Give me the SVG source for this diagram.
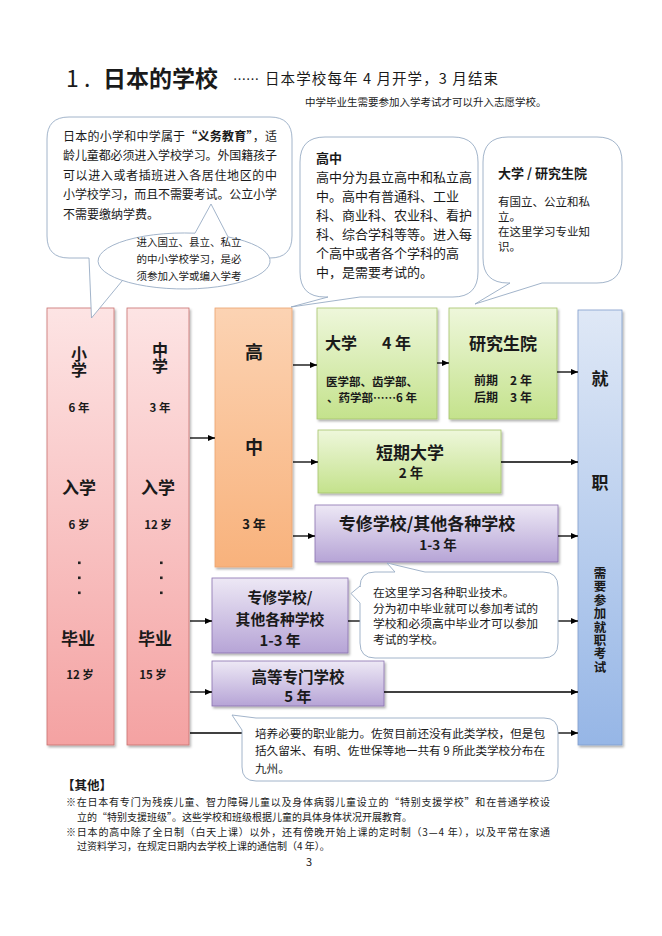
<svg xmlns="http://www.w3.org/2000/svg" width="662" height="936" viewBox="0 0 662 936">
<style>
.t{font-family:"Noto Sans CJK SC","Noto Sans",sans-serif;fill:#1a1a1a}
.b{font-weight:700}
.c{text-anchor:middle}
.v{writing-mode:vertical-rl;text-orientation:upright}
.cl{fill:#fff;stroke:#97abc4;stroke-width:0.9}
.ln{stroke:#000;stroke-width:1.3;fill:none}
</style>
<defs>
<linearGradient id="gPink" x1="0" y1="0" x2="0" y2="1"><stop offset="0" stop-color="#fde4e4"/><stop offset="1" stop-color="#f4a2a2"/></linearGradient>
<linearGradient id="gOr" x1="0" y1="0" x2="0" y2="1"><stop offset="0" stop-color="#fcd3b3"/><stop offset="1" stop-color="#f8b27c"/></linearGradient>
<linearGradient id="gGr" x1="0" y1="0" x2="0" y2="1"><stop offset="0" stop-color="#eef7db"/><stop offset="1" stop-color="#c4e28c"/></linearGradient>
<linearGradient id="gPu" x1="0" y1="0" x2="0" y2="1"><stop offset="0" stop-color="#ede8f5"/><stop offset="1" stop-color="#b6a4d6"/></linearGradient>
<linearGradient id="gBl" x1="0" y1="0" x2="0" y2="1"><stop offset="0" stop-color="#dfe8f6"/><stop offset="1" stop-color="#96b6e6"/></linearGradient>
<filter id="sh" x="-20%" y="-10%" width="140%" height="130%"><feDropShadow dx="1.5" dy="2" stdDeviation="1.2" flood-color="#000" flood-opacity="0.3"/></filter>
<marker id="arr" markerWidth="8" markerHeight="7" refX="7" refY="3" orient="auto" markerUnits="userSpaceOnUse"><path d="M0,0 L7,3 L0,6 z" fill="#000"/></marker>
</defs>
<rect width="662" height="936" fill="#fff"/>

<g id="title">
<text class="t" x="66" y="86.5" font-size="23" font-family="Liberation Sans">1</text>
<text class="t" x="84" y="86.5" font-size="23" font-family="Liberation Sans">.</text>
<text class="t b" x="103" y="86.5" font-size="23">日本的学校</text>
<text class="t" x="233" y="83.5" font-size="13">……</text>
<text class="t" x="265" y="83.5" font-size="14.5" textLength="233" lengthAdjust="spacing">日本学校每年 4 月开学，3 月结束</text>
<text class="t" x="305" y="106" font-size="10.5">中学毕业生需要参加入学考试才可以升入志愿学校。</text>
</g>

<g id="n-shougakko">
<rect x="47" y="308" width="67" height="437" fill="url(#gPink)" stroke="#c8716e" stroke-width="0.8" filter="url(#sh)"/>
<text class="t b v" x="79" y="346" font-size="16">小学</text>
<text class="t b c" x="79" y="412" font-size="11.5">6 年</text>
<text class="t b c" x="79" y="493.5" font-size="17">入学</text>
<text class="t b c" x="79" y="529" font-size="11.5">6 岁</text>
<rect x="78" y="561.5" width="2.6" height="2.6" fill="#222"/>
<rect x="78" y="576.5" width="2.6" height="2.6" fill="#222"/>
<rect x="78" y="591.5" width="2.6" height="2.6" fill="#222"/>
<text class="t b c" x="78" y="644.5" font-size="17">毕业</text>
<text class="t b c" x="80" y="679" font-size="11.5">12 岁</text>
</g>

<g id="n-chugakko">
<rect x="127" y="308" width="62" height="437" fill="url(#gPink)" stroke="#c8716e" stroke-width="0.8" filter="url(#sh)"/>
<text class="t b v" x="160" y="342" font-size="16">中学</text>
<text class="t b c" x="160" y="412" font-size="11.5">3 年</text>
<text class="t b c" x="158" y="493.5" font-size="17">入学</text>
<text class="t b c" x="158" y="529" font-size="11.5">12 岁</text>
<rect x="160" y="561.5" width="2.6" height="2.6" fill="#222"/>
<rect x="160" y="576.5" width="2.6" height="2.6" fill="#222"/>
<rect x="160" y="591.5" width="2.6" height="2.6" fill="#222"/>
<text class="t b c" x="155" y="644.5" font-size="17">毕业</text>
<text class="t b c" x="153" y="679" font-size="11.5">15 岁</text>
</g>

<g id="n-koko">
<rect x="215" y="308" width="77" height="259" fill="url(#gOr)" stroke="#eba36f" stroke-width="0.8" filter="url(#sh)"/>
<text class="t b c" x="254" y="359" font-size="18">高</text>
<text class="t b c" x="254" y="454" font-size="18">中</text>
<text class="t b c" x="254" y="529" font-size="13">3 年</text>
</g>

<g id="n-daigaku">
<rect x="317" y="308" width="120" height="111" fill="url(#gGr)" stroke="#a5c46c" stroke-width="0.8" filter="url(#sh)"/>
<text class="t b" x="325" y="349" font-size="16">大学<tspan x="382">4 年</tspan></text>
<text class="t b c" x="372" y="385.5" font-size="11.5">医学部、齿学部、</text>
<text class="t b c" x="372" y="402" font-size="11.5">、药学部……6 年</text>
</g>

<g id="n-daigakuin">
<rect x="449" y="308" width="108" height="111" fill="url(#gGr)" stroke="#a5c46c" stroke-width="0.8" filter="url(#sh)"/>
<text class="t b c" x="503" y="349.5" font-size="17">研究生院</text>
<text class="t b c" x="503" y="384.5" font-size="12">前期　2 年</text>
<text class="t b c" x="503" y="402" font-size="12">后期　3 年</text>
</g>

<g id="n-tanki">
<rect x="318" y="430" width="183" height="63" fill="url(#gGr)" stroke="#a5c46c" stroke-width="0.8" filter="url(#sh)"/>
<text class="t b c" x="410" y="458.5" font-size="17">短期大学</text>
<text class="t b c" x="411" y="478" font-size="13.5">2 年</text>
</g>

<g id="n-senshu-upper">
<rect x="315" y="505" width="243" height="57" fill="url(#gPu)" stroke="#8a72b0" stroke-width="0.8" filter="url(#sh)"/>
<text class="t b c" x="427" y="529.5" font-size="17">专修学校/其他各种学校</text>
<text class="t b c" x="438" y="550" font-size="13.5">1-3 年</text>
</g>

<g id="n-senshu-lower">
<rect x="212" y="578" width="136" height="75" fill="url(#gPu)" stroke="#8a72b0" stroke-width="0.8" filter="url(#sh)"/>
<text class="t b c" x="280" y="603" font-size="14.8">专修学校/</text>
<text class="t b c" x="280" y="624.5" font-size="14.8">其他各种学校</text>
<text class="t b c" x="280" y="646" font-size="14.8">1-3  年</text>
</g>

<g id="n-kosen">
<rect x="212" y="661" width="172" height="45" fill="url(#gPu)" stroke="#8a72b0" stroke-width="0.8" filter="url(#sh)"/>
<text class="t b c" x="298" y="682.5" font-size="15.5">高等专门学校</text>
<text class="t b c" x="298" y="702" font-size="15">5 年</text>
</g>

<g id="n-shushoku">
<rect x="578" y="310" width="44" height="435" fill="url(#gBl)" stroke="#7f9dcc" stroke-width="0.8" filter="url(#sh)"/>
<text class="t b c" x="600" y="384.5" font-size="17">就</text>
<text class="t b c" x="600" y="488.5" font-size="17">职</text>
<text class="t b v" x="600" y="567" font-size="12.5" letter-spacing="0.9">需要参加就职考试</text>
</g>

<g id="connectors">
<line class="ln" x1="190" y1="438" x2="215" y2="438" marker-end="url(#arr)"/>
<line class="ln" x1="293" y1="365" x2="317" y2="365" marker-end="url(#arr)"/>
<line class="ln" x1="293" y1="462" x2="318" y2="462" marker-end="url(#arr)"/>
<line class="ln" x1="293" y1="536" x2="315" y2="536" marker-end="url(#arr)"/>
<line class="ln" x1="437" y1="363" x2="449" y2="363" marker-end="url(#arr)"/>
<line class="ln" x1="557" y1="372" x2="578" y2="372" marker-end="url(#arr)"/>
<line class="ln" x1="501" y1="462" x2="578" y2="462" marker-end="url(#arr)"/>
<line class="ln" x1="558" y1="536" x2="578" y2="536" marker-end="url(#arr)"/>
<line class="ln" x1="190" y1="621" x2="212" y2="621" marker-end="url(#arr)"/>
<line class="ln" x1="348" y1="621" x2="360" y2="621"/>
<line class="ln" x1="558" y1="621" x2="578" y2="621" marker-end="url(#arr)"/>
<line class="ln" x1="190" y1="692" x2="212" y2="692" marker-end="url(#arr)"/>
<line class="ln" x1="384" y1="692" x2="578" y2="692" marker-end="url(#arr)"/>
<line class="ln" x1="190" y1="733" x2="242" y2="733"/>
<line class="ln" x1="558" y1="733" x2="578" y2="733" marker-end="url(#arr)"/>
</g>

<g id="callout-gimu">
<path class="cl" d="M69,117 H270 Q292,117 292,139 V236 Q292,258 270,258 H141 L91.5,318 L89,258 H69 Q47,258 47,236 V139 Q47,117 69,117 Z"/>
<text class="t" x="63" y="140.5" font-size="12" textLength="214" lengthAdjust="spacing">日本的小学和中学属于<tspan class="b">“义务教育”</tspan>，适</text>
<text class="t" x="63" y="160" font-size="12" textLength="214" lengthAdjust="spacing">龄儿童都必须进入学校学习。外国籍孩子</text>
<text class="t" x="63" y="179.5" font-size="12" textLength="214" lengthAdjust="spacing">可以进入或者插班进入各居住地区的中</text>
<text class="t" x="63" y="199" font-size="12" textLength="214" lengthAdjust="spacing">小学校学习，而且不需要考试。公立小学</text>
<text class="t" x="63" y="218.5" font-size="12">不需要缴纳学费。</text>
</g>

<g id="callout-nyugaku">
<path class="cl" d="M195,233.2 L211,204 L228,236.9 A86,28 0 1 1 195,233.2 Z"/>
<text class="t c" x="189" y="246" font-size="10.5">进入国立、县立、私立</text>
<text class="t c" x="189" y="263" font-size="10.5">的中小学校学习，是必</text>
<text class="t c" x="189" y="280" font-size="10.5">须参加入学或编入学考</text>
</g>

<g id="callout-koko">
<path class="cl" d="M325,137 H453 Q478,137 478,162 V272 Q478,297 453,297 H360 L291,307 L328,297 H325 Q300,297 300,272 V162 Q300,137 325,137 Z"/>
<text class="t b" x="316" y="162.5" font-size="13">高中</text>
<text class="t" x="316" y="181.5" font-size="13">高中分为县立高中和私立高</text>
<text class="t" x="316" y="200.5" font-size="13">中。高中有普通科、工业</text>
<text class="t" x="316" y="219.5" font-size="13">科、商业科、农业科、看护</text>
<text class="t" x="316" y="238.5" font-size="13">科、综合学科等等。进入每</text>
<text class="t" x="316" y="257.5" font-size="13">个高中或者各个学科的高</text>
<text class="t" x="316" y="276.5" font-size="13">中，是需要考试的。</text>
</g>

<g id="callout-daigaku">
<path class="cl" d="M508,137 H597 Q622,137 622,162 V258 Q622,283 597,283 H542 L475,304 L510,283 H508 Q483,283 483,258 V162 Q483,137 508,137 Z"/>
<text class="t b" x="498" y="177.5" font-size="13">大学 / 研究生院</text>
<text class="t" x="498" y="206" font-size="11.5">有国立、公立和私</text>
<text class="t" x="498" y="221" font-size="11.5">立。</text>
<text class="t" x="498" y="236" font-size="11.5">在这里学习专业知</text>
<text class="t" x="498" y="251" font-size="11.5">识。</text>
</g>

<g id="callout-senshu">
<path class="cl" d="M375,572 H395 L387,563 L425,572 H543 Q558,572 558,587 V643 Q558,658 543,658 H375 Q360,658 360,643 V603 L351,593.5 L360,586 V587 Q360,572 375,572 Z"/>
<text class="t" x="373" y="597" font-size="11.8">在这里学习各种职业技术。</text>
<text class="t" x="373" y="612.5" font-size="11.8">分为初中毕业就可以参加考试的</text>
<text class="t" x="373" y="628" font-size="11.8">学校和必须高中毕业才可以参加</text>
<text class="t" x="373" y="643.5" font-size="11.8">考试的学校。</text>
</g>

<g id="callout-kosen">
<path class="cl" d="M256,718 H544 Q558,718 558,732 V767 Q558,781 544,781 H256 Q242,781 242,767 V730 L232,715 L256,718 Z"/>
<text class="t" x="255" y="737.5" font-size="11.6" textLength="290" lengthAdjust="spacing">培养必要的职业能力。佐贺目前还没有此类学校，但是包</text>
<text class="t" x="255" y="755" font-size="11.6" textLength="290" lengthAdjust="spacing">括久留米、有明、佐世保等地一共有 9 所此类学校分布在</text>
<text class="t" x="255" y="772.5" font-size="11.6">九州。</text>
</g>

<g id="footer">
<text class="t b" x="62" y="790" font-size="12.5">【其他】</text>
<text class="t" x="66" y="805.5" font-size="10" textLength="484" lengthAdjust="spacing">※在日本有专门为残疾儿童、智力障碍儿童以及身体病弱儿童设立的“特别支援学校”和在普通学校设</text>
<text class="t" x="77" y="820.5" font-size="10">立的“特别支援班级”。这些学校和班级根据儿童的具体身体状况开展教育。</text>
<text class="t" x="66" y="835.5" font-size="10" textLength="484" lengthAdjust="spacing">※日本的高中除了全日制（白天上课）以外，还有傍晚开始上课的定时制（3—4 年），以及平常在家通</text>
<text class="t" x="77" y="849.5" font-size="10">过资料学习，在规定日期内去学校上课的通信制（4 年）。</text>
<text class="t c" x="309" y="866" font-size="11" font-family="Liberation Serif">3</text>
</g>
</svg>
